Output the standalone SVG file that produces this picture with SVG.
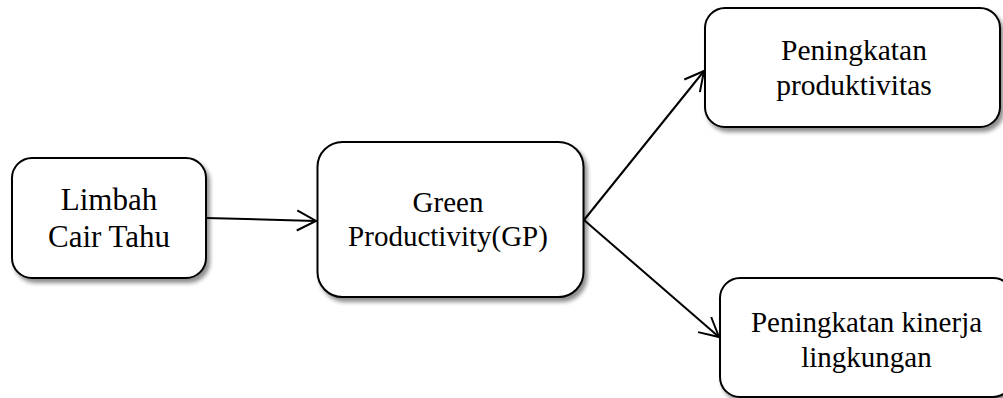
<svg xmlns="http://www.w3.org/2000/svg" width="1003" height="398" viewBox="0 0 1003 398">
  <style>
    .box { fill: #ffffff; stroke: #000000; stroke-width: 2; filter: url(#shadow); }
    .lbl { font-family: "Liberation Serif", "Times New Roman", serif; fill: #000000; text-anchor: middle; }
    .conn { stroke: #000000; stroke-width: 2; fill: none; marker-end: url(#arrow); }
  </style>
  <defs>
    <filter id="shadow" x="-10%" y="-10%" width="125%" height="130%">
      <feGaussianBlur in="SourceAlpha" stdDeviation="2"/>
      <feOffset dx="3" dy="4" result="b"/>
      <feComponentTransfer><feFuncA type="linear" slope="0.45"/></feComponentTransfer>
      <feMerge><feMergeNode/><feMergeNode in="SourceGraphic"/></feMerge>
    </filter>
    <marker id="arrow" viewBox="-24 -13 26 26" refX="0" refY="0" markerWidth="26" markerHeight="26" markerUnits="userSpaceOnUse" orient="auto" overflow="visible">
      <path d="M -19 -10 L 0 0 L -19 10" fill="none" stroke="#000000" stroke-width="2" stroke-linejoin="miter"/>
    </marker>
  </defs>

  <rect width="1003" height="398" fill="#ffffff"/>

  <g id="connectors">
    <line class="conn" x1="206" y1="218" x2="316" y2="221"/>
    <line class="conn" x1="584" y1="220" x2="704" y2="71"/>
    <line class="conn" x1="584" y1="220" x2="719" y2="337"/>
  </g>

  <g id="node-limbah">
    <rect class="box" x="12" y="158" width="194" height="120" rx="20" ry="20"/>
    <text class="lbl" font-size="31" x="109" y="209.5">Limbah</text>
    <text class="lbl" font-size="31" x="109" y="246.5">Cair Tahu</text>
  </g>

  <g id="node-gp">
    <rect class="box" x="317.5" y="142" width="266" height="155" rx="25" ry="25"/>
    <text class="lbl" font-size="29" x="448" y="211.5">Green</text>
    <text class="lbl" font-size="29" x="448" y="246">Productivity(GP)</text>
  </g>

  <g id="node-produktivitas">
    <rect class="box" x="705" y="8" width="295" height="119" rx="20" ry="20"/>
    <text class="lbl" font-size="29.5" x="854" y="60">Peningkatan</text>
    <text class="lbl" font-size="29.5" x="854" y="94.5">produktivitas</text>
  </g>

  <g id="node-lingkungan">
    <rect class="box" x="720" y="278" width="293" height="119" rx="20" ry="20"/>
    <text class="lbl" font-size="29" x="866.5" y="331.5">Peningkatan kinerja</text>
    <text class="lbl" font-size="29" x="866.5" y="366.5">lingkungan</text>
  </g>
</svg>
